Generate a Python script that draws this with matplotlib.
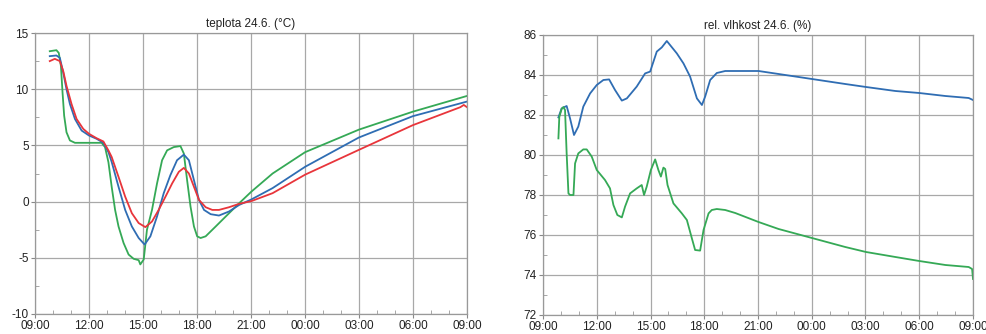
import numpy as np
import matplotlib.pyplot as plt
from matplotlib.ticker import MultipleLocator

plt.rcParams['font.family'] = ['Liberation Sans', 'DejaVu Sans']
plt.rcParams['axes.unicode_minus'] = False

# x = hodiny od 09:00 (24.6.), y = hodnota
hour_labels = ['09:00', '12:00', '15:00', '18:00', '21:00', '00:00', '03:00', '06:00', '09:00']

# teplota - zelena
t_green = [(0.82, 13.38), (1.19, 13.47), (1.32, 13.23), (1.44, 12.06), (1.53, 9.7), (1.62, 7.64),
           (1.75, 6.17), (1.94, 5.44), (2.22, 5.23), (3.70, 5.23), (3.89, 4.85), (4.08, 3.5),
           (4.26, 1.32), (4.45, -0.74), (4.64, -2.21), (4.92, -3.68), (5.20, -4.71), (5.48, -5.09),
           (5.76, -5.21), (5.85, -5.59), (6.04, -5.15), (6.22, -2.5), (6.50, -0.74), (6.78, 1.62),
           (7.06, 3.68), (7.34, 4.56), (7.71, 4.85), (8.08, 4.94), (8.27, 4.27), (8.45, 1.91),
           (8.64, -0.44), (8.83, -2.21), (9.01, -3.09), (9.20, -3.24), (9.48, -3.09), (10.04, -2.21),
           (10.60, -1.32), (11.34, -0.15), (12.03, 0.9), (13.20, 2.5), (15.01, 4.4), (17.99, 6.4),
           (20.99, 8.0), (24.0, 9.4)]

# teplota - modra
t_blue = [(0.82, 12.94), (1.19, 13.0), (1.38, 12.79), (1.57, 11.47), (1.75, 10.0), (1.94, 8.68),
          (2.22, 7.35), (2.59, 6.32), (3.0, 5.88), (3.42, 5.59), (3.80, 5.23), (4.08, 4.4),
          (4.26, 3.53), (4.64, 1.32), (5.01, -0.74), (5.38, -2.21), (5.76, -3.24), (6.09, -3.82),
          (6.41, -3.09), (6.78, -1.32), (7.15, 0.74), (7.52, 2.35), (7.89, 3.68), (8.27, 4.18),
          (8.55, 3.68), (8.83, 1.91), (9.11, 0.15), (9.39, -0.74), (9.76, -1.12), (10.22, -1.24),
          (10.78, -0.88), (11.34, -0.3), (12.03, 0.2), (13.20, 1.2), (15.01, 3.1), (17.99, 5.7),
          (20.99, 7.6), (24.0, 8.9)]

# teplota - cervena
t_red = [(0.82, 12.5), (1.10, 12.7), (1.38, 12.5), (1.57, 11.6), (1.75, 10.3), (2.03, 8.68),
         (2.31, 7.35), (2.68, 6.47), (3.0, 6.03), (3.42, 5.64), (3.80, 5.35), (4.08, 4.55),
         (4.26, 3.97), (4.64, 2.2), (5.01, 0.44), (5.38, -1.03), (5.76, -1.91), (6.13, -2.27),
         (6.50, -1.77), (6.87, -0.74), (7.25, 0.44), (7.62, 1.62), (7.99, 2.65), (8.27, 3.0),
         (8.55, 2.5), (8.83, 1.32), (9.11, 0.15), (9.48, -0.5), (9.85, -0.74), (10.22, -0.74),
         (10.78, -0.5), (11.34, -0.2), (12.03, 0.05), (13.20, 0.75), (15.01, 2.4), (17.99, 4.6),
         (20.99, 6.8), (23.63, 8.4), (23.82, 8.6), (24.0, 8.4)]

# vlhkost - modra
h_blue = [(0.86, 81.88), (0.95, 82.1), (1.04, 82.33), (1.32, 82.45), (1.51, 81.83), (1.73, 81.0),
          (1.97, 81.42), (2.25, 82.42), (2.63, 83.08), (3.0, 83.5), (3.37, 83.75), (3.69, 83.78),
          (4.02, 83.25), (4.40, 82.72), (4.68, 82.83), (5.23, 83.42), (5.70, 84.08), (5.98, 84.17),
          (6.35, 85.17), (6.63, 85.38), (6.91, 85.7), (7.47, 85.08), (7.84, 84.58), (8.21, 83.92),
          (8.59, 82.83), (8.87, 82.5), (9.05, 82.92), (9.33, 83.75), (9.70, 84.1), (10.17, 84.2),
          (10.73, 84.2), (12.03, 84.2), (13.15, 84.05), (15.01, 83.8), (16.87, 83.55),
          (18.03, 83.4), (19.67, 83.2), (21.0, 83.1), (22.46, 82.95), (23.76, 82.85), (24.0, 82.75)]

# vlhkost - zelena
h_green = [(0.86, 80.83), (0.91, 81.9), (1.04, 82.3), (1.14, 82.4), (1.23, 82.25), (1.32, 80.08),
           (1.42, 78.08), (1.51, 78.0), (1.70, 78.0), (1.79, 79.58), (1.97, 80.08), (2.25, 80.28),
           (2.44, 80.28), (2.72, 79.92), (3.0, 79.25), (3.46, 78.75), (3.74, 78.33), (3.93, 77.5),
           (4.15, 77.0), (4.40, 76.88), (4.58, 77.42), (4.86, 78.08), (5.23, 78.33), (5.51, 78.5),
           (5.64, 78.0), (5.79, 78.42), (6.02, 79.25), (6.26, 79.78), (6.44, 79.25), (6.58, 78.92),
           (6.72, 79.37), (6.82, 79.3), (6.95, 78.5), (7.28, 77.58), (7.75, 77.08), (8.03, 76.75),
           (8.31, 75.83), (8.49, 75.25), (8.77, 75.22), (8.96, 76.25), (9.24, 77.08), (9.42, 77.25),
           (9.70, 77.3), (10.17, 77.25), (10.73, 77.1), (12.03, 76.65), (13.15, 76.3), (15.01, 75.85),
           (16.87, 75.4), (18.03, 75.15), (19.67, 74.9), (21.0, 74.7), (22.46, 74.5), (23.76, 74.4),
           (23.95, 74.3), (24.0, 73.8)]

GREEN = '#35a956'
BLUE = '#2f6db3'
RED = '#e8353b'


def plot_series(ax, data, color):
    x, y = zip(*data)
    ax.plot(x, y, color=color, linewidth=1.3, solid_joinstyle='round')


def style_axes(ax, title, ylim, ystep):
    ax.set_xlim(0, 24)
    ax.set_ylim(*ylim)
    ax.set_xticks(np.arange(0, 25, 3))
    ax.set_xticklabels(hour_labels)
    ax.xaxis.set_minor_locator(MultipleLocator(1))
    ax.yaxis.set_major_locator(MultipleLocator(ystep))
    ax.yaxis.set_minor_locator(MultipleLocator(ystep / 2))
    ax.grid(True, which='major', color='#a8a8a8', linewidth=0.9)
    ax.tick_params(which='major', direction='out', length=3, color='#888888',
                   labelsize=8.5, pad=1.5, labelcolor='#222222')
    ax.tick_params(which='minor', direction='in', length=3, color='#999999')
    for sp in ax.spines.values():
        sp.set_color('#999999')
        sp.set_linewidth(0.9)
    ax.set_title(title, fontsize=8.5, pad=4, color='#222222')


fig = plt.figure(figsize=(9.87, 3.34), dpi=100)

ax1 = fig.add_axes([35 / 987, 1 - 314 / 334, 432 / 987, 281 / 334])
plot_series(ax1, t_green, GREEN)
plot_series(ax1, t_blue, BLUE)
plot_series(ax1, t_red, RED)
style_axes(ax1, 'teplota 24.6. (°C)', (-10, 15), 5)

ax2 = fig.add_axes([543 / 987, 1 - 315 / 334, 430 / 987, 280 / 334])
plot_series(ax2, h_blue, BLUE)
plot_series(ax2, h_green, GREEN)
style_axes(ax2, 'rel. vlhkost 24.6. (%)', (72, 86), 2)

fig.savefig('out.png', dpi=100)
